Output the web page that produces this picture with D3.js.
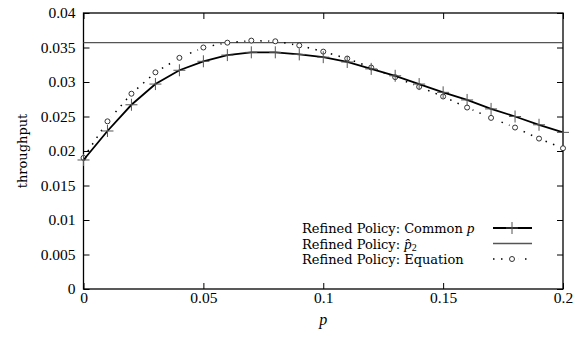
<!DOCTYPE html>
<html>
<head>
<meta charset="utf-8">
<script src="https://cdn.jsdelivr.net/npm/d3@7"></script>
<style>
  html, body { margin: 0; padding: 0; background: #fff; }
  svg { display: block; }
</style>
</head>
<body>
<svg id="chart" width="583" height="338"></svg>
<script>
// Probability p at which each policy was evaluated
const pValues = [0, 0.01, 0.02, 0.03, 0.04, 0.05, 0.06, 0.07, 0.08, 0.09, 0.10,
                 0.11, 0.12, 0.13, 0.14, 0.15, 0.16, 0.17, 0.18, 0.19, 0.20];
// Throughput with a common p
const commonP = [0.0187, 0.0229, 0.0267, 0.0297, 0.0317, 0.0330, 0.0339, 0.0343, 0.0343, 0.0340, 0.0336,
                 0.0329, 0.0319, 0.0309, 0.0297, 0.0285, 0.0274, 0.0261, 0.0250, 0.0238, 0.0227];
// Throughput predicted by the equation
const equation = [0.0190, 0.0243, 0.0283, 0.0314, 0.0335, 0.0350, 0.0357, 0.0360, 0.0359, 0.0353, 0.0344,
                  0.0334, 0.0321, 0.0307, 0.0293, 0.0279, 0.0263, 0.0248, 0.0234, 0.0218, 0.0204];
// Throughput with the optimised p-hat_2 (constant)
const pHat2 = 0.0357;

const xTicks = [0, 0.05, 0.1, 0.15, 0.2];
const xTickLabels = ["0", "0.05", "0.1", "0.15", "0.2"];
const yTicks = [0, 0.005, 0.01, 0.015, 0.02, 0.025, 0.03, 0.035, 0.04];
const yTickLabels = ["0", "0.005", "0.01", "0.015", "0.02", "0.025", "0.03", "0.035", "0.04"];

const svg = d3.select("#chart");
const L = 83.5, R = 563, T = 13, B = 289;

const x = d3.scaleLinear().domain([0, 0.2]).range([L, R]);
const y = d3.scaleLinear().domain([0, 0.04]).range([B, T]);

const tickFont = "'Liberation Serif', 'Times New Roman', serif";
const textFont = "'DejaVu Serif', serif";

// Axes with inward ticks, mirrored on top and right
function styleAxis(g) {
  g.select(".domain").remove();
  g.selectAll(".tick line").attr("stroke", "#000").attr("stroke-width", 1);
  g.selectAll(".tick text").attr("font-family", tickFont).attr("font-size", 15.5).attr("fill", "#000");
}
svg.append("g").attr("transform", `translate(0,${B})`)
  .call(d3.axisBottom(x).tickValues(xTicks).tickFormat((d, i) => xTickLabels[i]).tickSizeInner(-6).tickPadding(3))
  .call(styleAxis);
svg.append("g").attr("transform", `translate(0,${T})`)
  .call(d3.axisTop(x).tickValues(xTicks).tickFormat("").tickSizeInner(-6))
  .call(styleAxis);
svg.append("g").attr("transform", `translate(${L},0)`)
  .call(d3.axisLeft(y).tickValues(yTicks).tickFormat((d, i) => yTickLabels[i]).tickSizeInner(-6).tickPadding(8))
  .call(styleAxis);
svg.append("g").attr("transform", `translate(${R},0)`)
  .call(d3.axisRight(y).tickValues(yTicks).tickFormat("").tickSizeInner(-6))
  .call(styleAxis);

// Frame
svg.append("rect").attr("x", L).attr("y", T).attr("width", R - L).attr("height", B - T)
  .attr("fill", "none").attr("stroke", "#000").attr("stroke-width", 1.3);

// Axis titles
svg.append("text").attr("transform", `translate(22,${(T + B) / 2}) rotate(-90)`)
  .attr("text-anchor", "middle").attr("dominant-baseline", "central")
  .attr("font-family", textFont).attr("font-size", 13).text("throughput");
svg.append("text").attr("x", x(0.1)).attr("y", 325)
  .attr("text-anchor", "middle").attr("font-family", tickFont).attr("font-style", "italic")
  .attr("font-size", 16).text("p");

// Constant p-hat_2 line
svg.append("line").attr("x1", L).attr("x2", R).attr("y1", y(pHat2)).attr("y2", y(pHat2))
  .attr("stroke", "#555").attr("stroke-width", 1.3);

// Mask that blanks the dotted line around each circle marker
const defs = svg.append("defs");
const mask = defs.append("mask").attr("id", "eqMask").attr("maskUnits", "userSpaceOnUse")
  .attr("x", 0).attr("y", 0).attr("width", 583).attr("height", 338);
mask.append("rect").attr("width", 583).attr("height", 338).attr("fill", "#fff");
mask.selectAll("circle").data(pValues).join("circle")
  .attr("cx", d => x(d)).attr("cy", (d, i) => y(equation[i])).attr("r", 6).attr("fill", "#000");
const legendRows = [228, 243.5, 259];
const sx1 = 493, sx2 = 532, sxc = 512;
mask.append("circle").attr("cx", sxc).attr("cy", legendRows[2]).attr("r", 7).attr("fill", "#000");

const line = d3.line().x((d, i) => x(pValues[i])).y(d => y(d));

// Equation: dotted line with circle markers
svg.append("path").datum(equation).attr("d", line)
  .attr("fill", "none").attr("stroke", "#000").attr("stroke-width", 1.5)
  .attr("stroke-dasharray", "1.5 6.5").attr("mask", "url(#eqMask)");
svg.append("g").selectAll("circle").data(pValues).join("circle")
  .attr("cx", d => x(d)).attr("cy", (d, i) => y(equation[i])).attr("r", 2.5)
  .attr("fill", "#fff").attr("stroke", "#333").attr("stroke-width", 1);

// Common p: solid line with plus markers
svg.append("path").datum(commonP).attr("d", line)
  .attr("fill", "none").attr("stroke", "#000").attr("stroke-width", 1.8);
function plus(g, cx, cy) {
  g.append("path").attr("d", `M${cx - 6},${cy}H${cx + 6}M${cx},${cy - 6}V${cy + 6}`)
    .attr("stroke", "#555").attr("stroke-width", 1).attr("fill", "none");
}
const plusG = svg.append("g");
pValues.forEach((p, i) => plus(plusG, x(p), y(commonP[i])));

// Legend
const lg = svg.append("g").attr("font-family", textFont).attr("font-size", 13);
const lx = 302;
const t0 = lg.append("text").attr("x", lx).attr("y", legendRows[0]).attr("dominant-baseline", "central");
t0.append("tspan").text("Refined Policy: Common ");
t0.append("tspan").attr("font-family", tickFont).attr("font-style", "italic").attr("font-size", 15).text("p");
const t1 = lg.append("text").attr("x", lx).attr("y", legendRows[1]).attr("dominant-baseline", "central");
t1.append("tspan").text("Refined Policy: ");
t1.append("tspan").attr("font-family", tickFont).attr("font-style", "italic").attr("font-size", 15).text("p\u0302");
t1.append("tspan").attr("font-family", tickFont).attr("font-size", 10).attr("dy", 3).text("2");
lg.append("text").attr("x", lx).attr("y", legendRows[2]).attr("dominant-baseline", "central")
  .text("Refined Policy: Equation");

lg.append("line").attr("x1", sx1).attr("x2", sx2).attr("y1", legendRows[0]).attr("y2", legendRows[0])
  .attr("stroke", "#000").attr("stroke-width", 1.8);
plus(lg, sxc, legendRows[0]);
lg.append("line").attr("x1", sx1).attr("x2", sx2).attr("y1", legendRows[1]).attr("y2", legendRows[1])
  .attr("stroke", "#555").attr("stroke-width", 1.3);
lg.append("line").attr("x1", sx1).attr("x2", sx2 + 1).attr("y1", legendRows[2]).attr("y2", legendRows[2])
  .attr("stroke", "#000").attr("stroke-width", 1.5).attr("stroke-dasharray", "1.5 6.5")
  .attr("mask", "url(#eqMask)");
lg.append("circle").attr("cx", sxc).attr("cy", legendRows[2]).attr("r", 2.5)
  .attr("fill", "#fff").attr("stroke", "#333").attr("stroke-width", 1);
</script>
</body>
</html>
